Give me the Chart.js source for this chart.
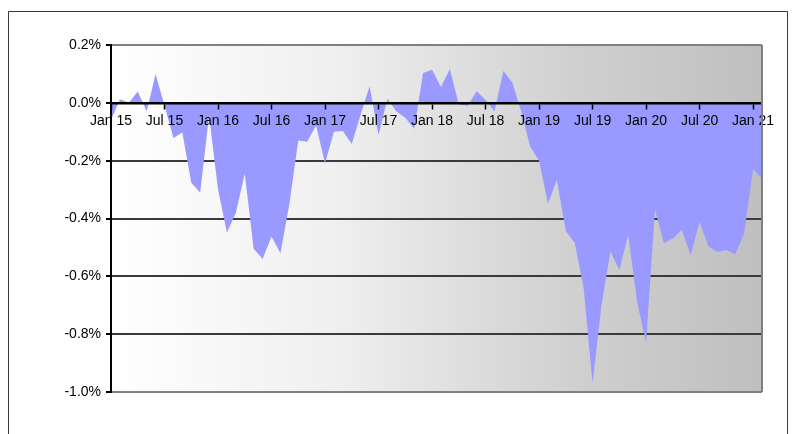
<!DOCTYPE html>
<html>
<head>
<meta charset="utf-8">
<script src="https://cdn.jsdelivr.net/npm/chart.js@4/dist/chart.umd.min.js"></script>
<style>
html, body { margin: 0; padding: 0; background: #fff; }
#wrap { position: relative; width: 795px; height: 434px; }
</style>
</head>
<body>
<div id="wrap"><canvas id="myChart" width="795" height="434"></canvas></div>
<script>
// monthly series, Jan 15 .. Feb 21 (values in %)
let monthNames = ['Jan','Feb','Mar','Apr','May','Jun','Jul','Aug','Sep','Oct','Nov','Dec'];
let firstYear = 2015;
let monthCount = 74;

let spread = [
  -0.06, 0.012, 0.00, 0.039, -0.03, 0.10, -0.01, -0.122, -0.103, -0.276, -0.31, -0.045,
  -0.30, -0.448, -0.38, -0.245, -0.505, -0.54, -0.462, -0.52, -0.35, -0.13, -0.135, -0.078,
  -0.21, -0.10, -0.097, -0.142, -0.04, 0.057, -0.111, 0.014, -0.03, -0.052, -0.09, 0.103,
  0.114, 0.055, 0.117, -0.006, -0.01, 0.04, 0.01, -0.029, 0.11, 0.07, -0.03, -0.151,
  -0.20, -0.348, -0.268, -0.443, -0.484, -0.64, -0.97, -0.70, -0.514, -0.578, -0.456, -0.69,
  -0.83, -0.37, -0.485, -0.469, -0.44, -0.527, -0.412, -0.497, -0.516, -0.509, -0.524, -0.452,
  -0.23, -0.262
];

let yTicks = [0.2, 0.0, -0.2, -0.4, -0.6, -0.8, -1.0];

let labels = [];
for (let i = 0; i < monthCount; i++) {
  let yy = String((firstYear + Math.floor(i / 12)) % 100).padStart(2, '0');
  labels[i] = monthNames[i % 12] + ' ' + yy;
}

// grey gradient behind the plot + outer frame
let plotBackground = {
  id: 'plotBackground',
  beforeDraw(chart) {
    let ctx = chart.ctx;
    let a = chart.chartArea;
    ctx.save();
    ctx.fillStyle = '#fff';
    ctx.fillRect(0, 0, chart.width, chart.height);

    ctx.strokeStyle = '#3a3a3a';
    ctx.lineWidth = 1;
    ctx.beginPath();
    ctx.moveTo(8.5, chart.height);
    ctx.lineTo(8.5, 11.5);
    ctx.lineTo(787.5, 11.5);
    ctx.lineTo(787.5, chart.height);
    ctx.stroke();

    let g = ctx.createLinearGradient(a.left, 0, a.right, 0);
    g.addColorStop(0, '#ffffff');
    g.addColorStop(0.35, '#efefef');
    g.addColorStop(0.6, '#d9d9d9');
    g.addColorStop(0.71, '#d0d0d0');
    g.addColorStop(1, '#bfbfbf');
    ctx.fillStyle = g;
    ctx.fillRect(a.left, a.top, a.right - a.left, a.bottom - a.top);
    ctx.restore();
  },
  afterDraw(chart) {
    let ctx = chart.ctx;
    let a = chart.chartArea;
    ctx.save();
    ctx.strokeStyle = '#808080';
    ctx.lineWidth = 2;
    ctx.beginPath();
    ctx.moveTo(a.right, a.top);
    ctx.lineTo(a.right, a.bottom);
    ctx.stroke();
    // y axis line stays on top of the area
    ctx.strokeStyle = '#000';
    ctx.beginPath();
    ctx.moveTo(a.left, a.top);
    ctx.lineTo(a.left, a.bottom);
    ctx.stroke();
    ctx.restore();
  }
};

let ctx = document.getElementById('myChart').getContext('2d');
let myChart = new Chart(ctx, {
  type: 'line',
  data: {
    labels: labels,
    datasets: [{
      data: spread,
      fill: 'origin',
      backgroundColor: '#9999ff',
      borderWidth: 0,
      pointRadius: 0,
      tension: 0
    }]
  },
  options: {
    responsive: false,
    animation: false,
    layout: { padding: { top: 45, right: 33, bottom: 42, left: 0 } },
    plugins: {
      legend: { display: false },
      tooltip: { enabled: false }
    },
    scales: {
      x: {
        type: 'category',
        position: { y: 0 },
        offset: false,
        border: { display: true, color: '#000', width: 2.5, z: 1 },
        grid: {
          z: 1,
          drawOnChartArea: false,
          drawTicks: true,
          tickLength: 5,
          tickWidth: 1.5,
          tickColor: (c) => (c.index % 6 === 0 ? '#000' : 'rgba(0,0,0,0)')
        },
        ticks: {
          z: 1,
          autoSkip: false,
          maxRotation: 0,
          minRotation: 0,
          padding: 5,
          color: '#000',
          font: { family: 'Liberation Sans, Arial, sans-serif', size: 14 },
          callback: function (v, i) { return i % 6 === 0 ? labels[i] : ''; }
        }
      },
      y: {
        min: -1.0,
        max: 0.2,
        afterFit: (scale) => { scale.width = 111; },
        afterBuildTicks: (scale) => { scale.ticks = yTicks.map(v => ({ value: v })); },
        border: { display: true, color: '#000', width: 2 },
        grid: {
          color: (c) => (c.tick && (c.tick.value === 0.2 || c.tick.value === -1.0) ? '#808080' : '#3a3a3a'),
          lineWidth: 2,
          tickColor: '#000',
          tickLength: 5
        },
        ticks: {
          padding: 5,
          color: '#000',
          font: { family: 'Liberation Sans, Arial, sans-serif', size: 14 },
          callback: (v) => v.toFixed(1) + '%'
        }
      }
    }
  },
  plugins: [plotBackground]
});
</script>
</body>
</html>
